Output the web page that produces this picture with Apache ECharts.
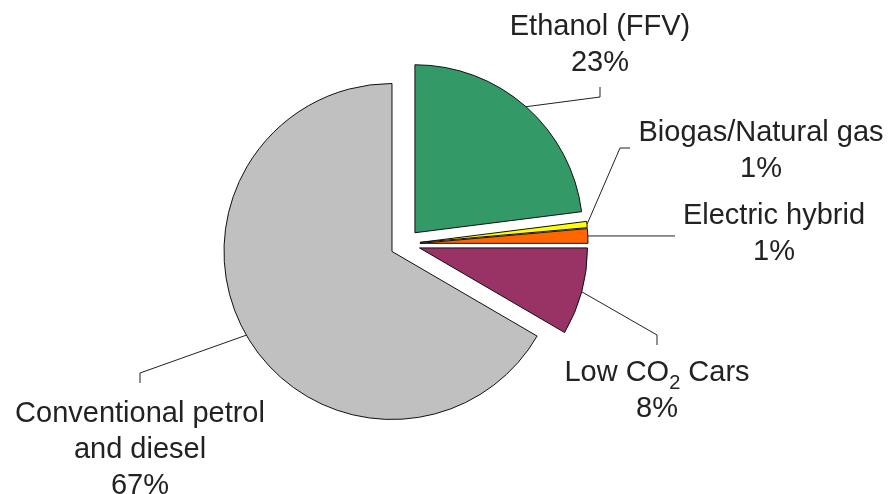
<!DOCTYPE html>
<html>
<head>
<meta charset="utf-8">
<script src="https://cdn.jsdelivr.net/npm/echarts@6/dist/echarts.min.js"></script>
<style>
  html, body { margin: 0; padding: 0; background: #fff; }
  #chart { width: 894px; height: 494px; }
</style>
</head>
<body>
<div id="chart"></div>
<script>
// share of new cars by fuel type
const categories = ['Ethanol (FFV)', 'Biogas/Natural gas', 'Electric hybrid', 'Low CO2 Cars', 'Conventional petrol and diesel']
const labelTexts = ['Ethanol (FFV)', 'Biogas/Natural gas', 'Electric hybrid', 'Low CO{sub|2} Cars', 'Conventional petrol\nand diesel']
const shares = [23, 0.6, 1.4, 8.4, 66.6]
const colors = ['#339966', '#ffff00', '#ff6600', '#993366', '#c0c0c0']

const center = [405, 244]
const radius = 168
const explode = 15

// where each label block sits and the bend of its leader line
const labelPos = [[600, 45], [761, 151], [774, 234], [657, 391], [140, 450]]
const bends = [
  [[600, 97], [600, 87]],
  [[620, 148], [630, 148]],
  [null, [675, null]],
  [[657, 335], [657, 345]],
  [[140, 373], [140, 383]]
]

const total = shares.reduce((a, b) => a + b, 0)

function midAngle(i) {
  let before = 0
  for (let k = 0; k < i; k++) before += shares[k]
  return (90 - (before + shares[i] / 2) / total * 360) * Math.PI / 180
}
// every slice is pulled out along its middle angle
function sliceCenter(i) {
  const a = midAngle(i)
  return [center[0] + explode * Math.cos(a), center[1] - explode * Math.sin(a)]
}
function edgePoint(i) {
  const a = midAngle(i)
  const c = sliceCenter(i)
  return [c[0] + radius * Math.cos(a), c[1] - radius * Math.sin(a)]
}

const labelStyle = {
  color: '#222',
  fontFamily: 'Liberation Sans, Arial, sans-serif',
  fontSize: 29,
  lineHeight: 36,
  align: 'center',
  formatter: function (p) {
    return labelTexts[p.dataIndex] + '\n' + Math.round(p.percent) + '%'
  },
  rich: {
    sub: { fontSize: 20, padding: [20, 0, 0, 0], color: '#222', fontFamily: 'Liberation Sans, Arial, sans-serif' }
  }
}

// one pie per slice, the other slices left invisible, so each can sit on its own centre
const series = categories.map((_, s) => ({
  type: 'pie',
  center: sliceCenter(s),
  radius: radius,
  startAngle: 90,
  clockwise: true,
  avoidLabelOverlap: false,
  silent: true,
  emphasis: { disabled: true },
  label: labelStyle,
  labelLine: { show: true, lineStyle: { color: '#222', width: 1 } },
  labelLayout: function (params) {
    const i = params.dataIndex
    if (i !== s) return {}
    const st = edgePoint(i)
    const b = bends[i]
    const pts = b[0] === null
      ? [st, [b[1][0], st[1]], [b[1][0], st[1]]]
      : [st, b[0], b[1]]
    return {
      x: labelPos[i][0],
      y: labelPos[i][1],
      align: 'center',
      verticalAlign: 'middle',
      labelLinePoints: pts
    }
  },
  data: categories.map((name, i) => i === s
    ? { name: name, value: shares[i], itemStyle: { color: colors[i], borderColor: '#111', borderWidth: 1 } }
    : { name: name, value: shares[i], itemStyle: { color: 'rgba(0,0,0,0)', borderWidth: 0 },
        label: { show: false }, labelLine: { show: false } })
}))

const chart = echarts.init(document.getElementById('chart'))
chart.setOption({
  animation: false,
  backgroundColor: '#fff',
  series: series
})
</script>
</body>
</html>
